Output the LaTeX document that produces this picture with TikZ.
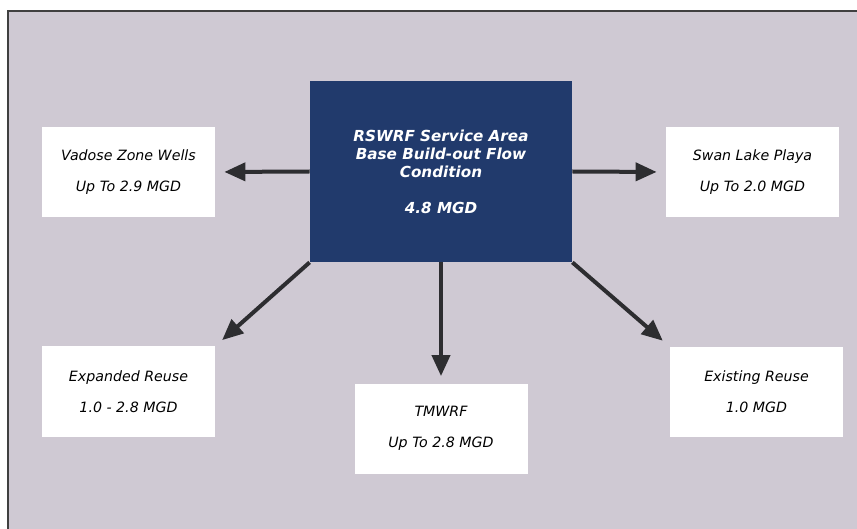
\documentclass[tikz,border=0pt]{standalone}
\usepackage{fontspec}
\setmainfont{DejaVu Sans}
\usetikzlibrary{arrows.meta}
\definecolor{panelgray}{RGB}{207,201,211}
\definecolor{servicenavy}{RGB}{33,58,108}
\definecolor{arrowgray}{RGB}{45,45,48}
\tikzstyle{service} = [rectangle, minimum width=131pt, minimum height=90.5pt, text centered, fill=servicenavy, text=white, font=\fontsize{7.6}{9}\selectfont\bfseries\itshape, align=center]
\tikzstyle{outlet} = [rectangle, minimum width=86.5pt, minimum height=45pt, text centered, fill=white, font=\fontsize{7.1}{15.5}\selectfont\itshape, align=center]
\tikzstyle{arrow} = [line width=2pt, draw=arrowgray, -{Triangle[length=10.5pt,width=9pt]}, shorten >=4.5pt]
\begin{document}
\begin{tikzpicture}[x=0.5pt,y=-0.5pt]
\useasboundingbox (0,0) rectangle (857,529);
%
% Background panel
%
\fill[panelgray] (8,11) rectangle (857,529);
\draw[line width=0.6pt, black!75] (8,529) -- (8,11) -- (857,11);
%
% Define nodes
%
\node (rswrf) [service] at (441,171.5) {RSWRF Service Area\\Base Build-out Flow\\Condition\\[9pt]4.8 MGD};
\node (vadose) [outlet] at (128.5,172) {Vadose Zone Wells\\Up To 2.9 MGD};
\node (swan) [outlet] at (752.5,172) {Swan Lake Playa\\Up To 2.0 MGD};
\node (expanded) [outlet] at (128.5,391.5) {Expanded Reuse\\1.0 - 2.8 MGD};
\node (tmwrf) [outlet] at (441,428.5) {TMWRF\\Up To 2.8 MGD};
\node (existing) [outlet] at (756.5,392) {Existing Reuse\\1.0 MGD};
%
% Connect nodes
%
\draw [arrow] (rswrf.west) -- (vadose.east);
\draw [arrow] (rswrf.east) -- (swan.west);
\draw [arrow] (rswrf.south west) -- (expanded.north east);
\draw [arrow, shorten >=3.5pt] (rswrf.south) -- (tmwrf.north);
\draw [arrow] (rswrf.south east) -- (existing.north west);
\end{tikzpicture}
\end{document}
